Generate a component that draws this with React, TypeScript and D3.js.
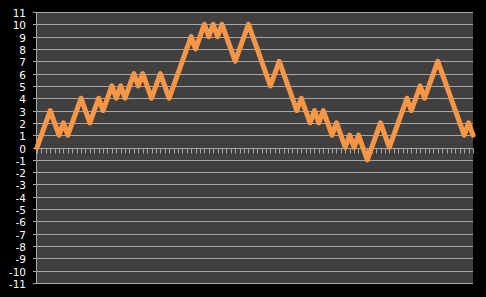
import React from "react";
import * as d3 from "d3";

const W = 486;
const H = 297;

// Random-walk values (one per x position)
const values: number[] = [
  0, 1, 2, 3, 2, 1, 2, 1, 2, 3,
  4, 3, 2, 3, 4, 3, 4, 5, 4, 5,
  4, 5, 6, 5, 6, 5, 4, 5, 6, 5,
  4, 5, 6, 7, 8, 9, 8, 9, 10, 9,
  10, 9, 10, 9, 8, 7, 8, 9, 10, 9,
  8, 7, 6, 5, 6, 7, 6, 5, 4, 3,
  4, 3, 2, 3, 2, 3, 2, 1, 2, 1,
  0, 1, 0, 1, 0, -1, 0, 1, 2, 1,
  0, 1, 2, 3, 4, 3, 4, 5, 4, 5,
  6, 7, 6, 5, 4, 3, 2, 1, 2, 1,
];

const yTicks: number[] = [
  -11, -10, -9, -8, -7, -6, -5, -4, -3, -2, -1, 0, 1, 2, 3, 4, 5, 6, 7, 8, 9, 10, 11,
];

const PLOT_LEFT = 36;
const PLOT_RIGHT = 473;
const PLOT_TOP = 12;
const PLOT_BOTTOM = 283;

export default function App() {
  const x = d3
    .scaleLinear()
    .domain([0, values.length - 1])
    .range([PLOT_LEFT + 1, PLOT_RIGHT]);
  const y = d3.scaleLinear().domain([-11, 11]).range([PLOT_BOTTOM, PLOT_TOP]);

  const line = d3
    .line<number>()
    .x((_, i) => x(i))
    .y((d) => y(d));

  const snap = (v: number) => Math.round(v) + 0.5;
  const gridColor = "#a6a6a6";

  return (
    <svg
      width={W}
      height={H}
      style={{ position: "fixed", left: 0, top: 0, display: "block", background: "#000" }}
    >
      <rect x={0} y={0} width={W} height={H} fill="#000" />
      <rect
        x={PLOT_LEFT}
        y={PLOT_TOP}
        width={PLOT_RIGHT - PLOT_LEFT}
        height={PLOT_BOTTOM - PLOT_TOP}
        fill="#404040"
      />
      {yTicks.map((t) => (
        <g key={t}>
          <line
            x1={PLOT_LEFT - 3}
            x2={PLOT_RIGHT}
            y1={snap(y(t))}
            y2={snap(y(t))}
            stroke={gridColor}
            strokeWidth={1}
          />
          <text
            x={26}
            y={snap(y(t))}
            fill="#ffffff"
            fontFamily="'DejaVu Sans', Verdana, sans-serif"
            fontSize={10.5}
            textAnchor="end"
            dominantBaseline="central"
          >
            {t}
          </text>
        </g>
      ))}
      <line
        x1={PLOT_LEFT + 0.5}
        x2={PLOT_LEFT + 0.5}
        y1={PLOT_TOP}
        y2={PLOT_BOTTOM + 1}
        stroke={gridColor}
        strokeWidth={1}
      />
      {values.map((_, i) => (
        <line
          key={i}
          x1={snap(x(i))}
          x2={snap(x(i))}
          y1={snap(y(0))}
          y2={snap(y(0)) + 5}
          stroke={gridColor}
          strokeWidth={1}
        />
      ))}
      <path
        d={line(values) || ""}
        fill="none"
        stroke="#f79646"
        strokeWidth={5}
        strokeLinejoin="round"
        strokeLinecap="round"
      />
    </svg>
  );
}
